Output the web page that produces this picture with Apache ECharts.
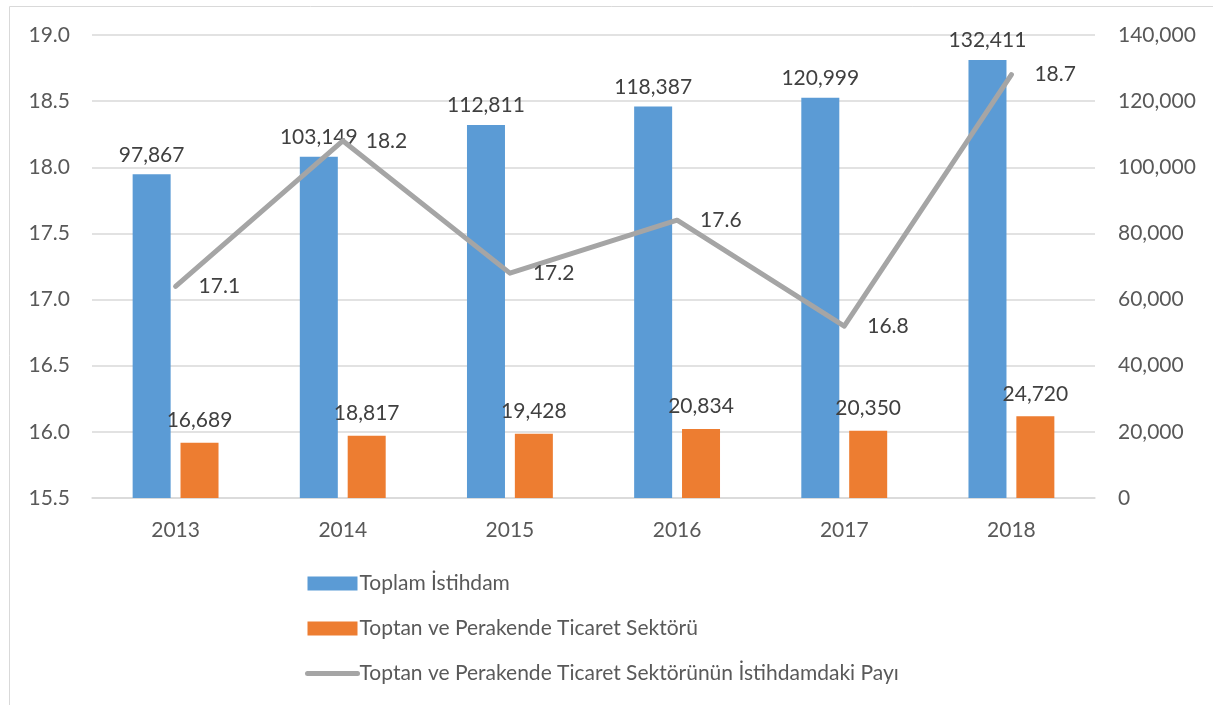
<!DOCTYPE html>
<html>
<head>
<meta charset="utf-8">
<script src="https://cdn.jsdelivr.net/npm/echarts@6/dist/echarts.min.js"></script>
<style>
  html, body { margin: 0; padding: 0; background: #fff; }
  #chart { width: 1213px; height: 705px; }
</style>
</head>
<body>
<div id="chart"></div>
<script>
// yillar
var years = ['2013', '2014', '2015', '2016', '2017', '2018'];
// toplam istihdam (sag eksen)
var toplam = [97867, 103149, 112811, 118387, 120999, 132411];
// toptan ve perakende ticaret (sag eksen)
var ticaret = [16689, 18817, 19428, 20834, 20350, 24720];
// pay, % (sol eksen)
var pay = [17.1, 18.2, 17.2, 17.6, 16.8, 18.7];

var nameToplam = 'Toplam İstihdam';
var nameTicaret = 'Toptan ve Perakende Ticaret Sektörü';
var namePay = 'Toptan ve Perakende Ticaret Sektörünün İstihdamdaki Payı';

var FONT = 'Lato, "Liberation Sans", sans-serif';

function fmtNum(v) {
    return Number(v).toLocaleString('en-US');
}

var option = {
    animation: false,
    textStyle: { fontFamily: FONT },
    grid: { left: 92, right: 118, top: 35, bottom: 207 },
    graphic: [
        { type: 'line', shape: { x1: 9.5, y1: 6.5, x2: 1213, y2: 6.5 }, style: { stroke: '#d9d9d9', lineWidth: 1 } },
        { type: 'line', shape: { x1: 9.5, y1: 6.5, x2: 9.5, y2: 705 }, style: { stroke: '#d9d9d9', lineWidth: 1 } }
    ],
    legend: {
        orient: 'vertical',
        left: 300,
        top: 568,
        itemWidth: 50,
        itemHeight: 14,
        itemGap: 24,
        textStyle: { fontFamily: FONT, fontSize: 21, color: '#595959', padding: [0, 0, 0, -3] },
        data: [
            { name: nameToplam, icon: 'rect' },
            { name: nameTicaret, icon: 'rect' },
            { name: namePay, itemStyle: { opacity: 0 }, lineStyle: { width: 5, cap: 'round', color: '#a5a5a5' } }
        ]
    },
    xAxis: {
        type: 'category',
        data: years,
        axisLine: { lineStyle: { color: '#d9d9d9', width: 1.5 } },
        axisTick: { show: false },
        axisLabel: { fontSize: 21, color: '#595959', margin: 22 }
    },
    yAxis: [
        {
            type: 'value',
            min: 15.5,
            max: 19,
            interval: 0.5,
            axisLine: { show: false },
            axisTick: { show: false },
            axisLabel: {
                fontSize: 21, color: '#595959', margin: 22,
                formatter: function (v) { return v.toFixed(1); }
            },
            splitLine: { lineStyle: { color: '#d9d9d9', width: 1.5 } }
        },
        {
            type: 'value',
            min: 0,
            max: 140000,
            interval: 20000,
            axisLine: { show: false },
            axisTick: { show: false },
            axisLabel: {
                fontSize: 21, color: '#595959', margin: 23,
                formatter: function (v) { return fmtNum(v); }
            },
            splitLine: { show: false }
        }
    ],
    series: [
        {
            name: nameToplam,
            type: 'bar',
            yAxisIndex: 1,
            data: toplam,
            barWidth: 38,
            barGap: '26%',
            itemStyle: { color: '#5b9bd5' },
            label: {
                show: true, position: 'top', distance: 9,
                fontSize: 21, color: '#404040',
                formatter: function (p) { return fmtNum(p.value); }
            }
        },
        {
            name: nameTicaret,
            type: 'bar',
            yAxisIndex: 1,
            data: ticaret,
            barWidth: 38,
            itemStyle: { color: '#ed7d31' },
            label: {
                show: true, position: 'top', distance: 12,
                fontSize: 21, color: '#404040',
                formatter: function (p) { return fmtNum(p.value); }
            }
        },
        {
            name: namePay,
            type: 'line',
            yAxisIndex: 0,
            data: pay,
            symbol: 'circle',
            symbolSize: 2,
            z: 5,
            lineStyle: { color: '#a5a5a5', width: 5, cap: 'round', join: 'round' },
            itemStyle: { color: 'rgba(165,165,165,0)' },
            label: {
                show: true, position: 'right', distance: 22,
                fontSize: 21, color: '#404040',
                formatter: function (p) { return p.value.toFixed(1); }
            }
        }
    ]
};

var chart = echarts.init(document.getElementById('chart'));
chart.setOption(option);
</script>
</body>
</html>
